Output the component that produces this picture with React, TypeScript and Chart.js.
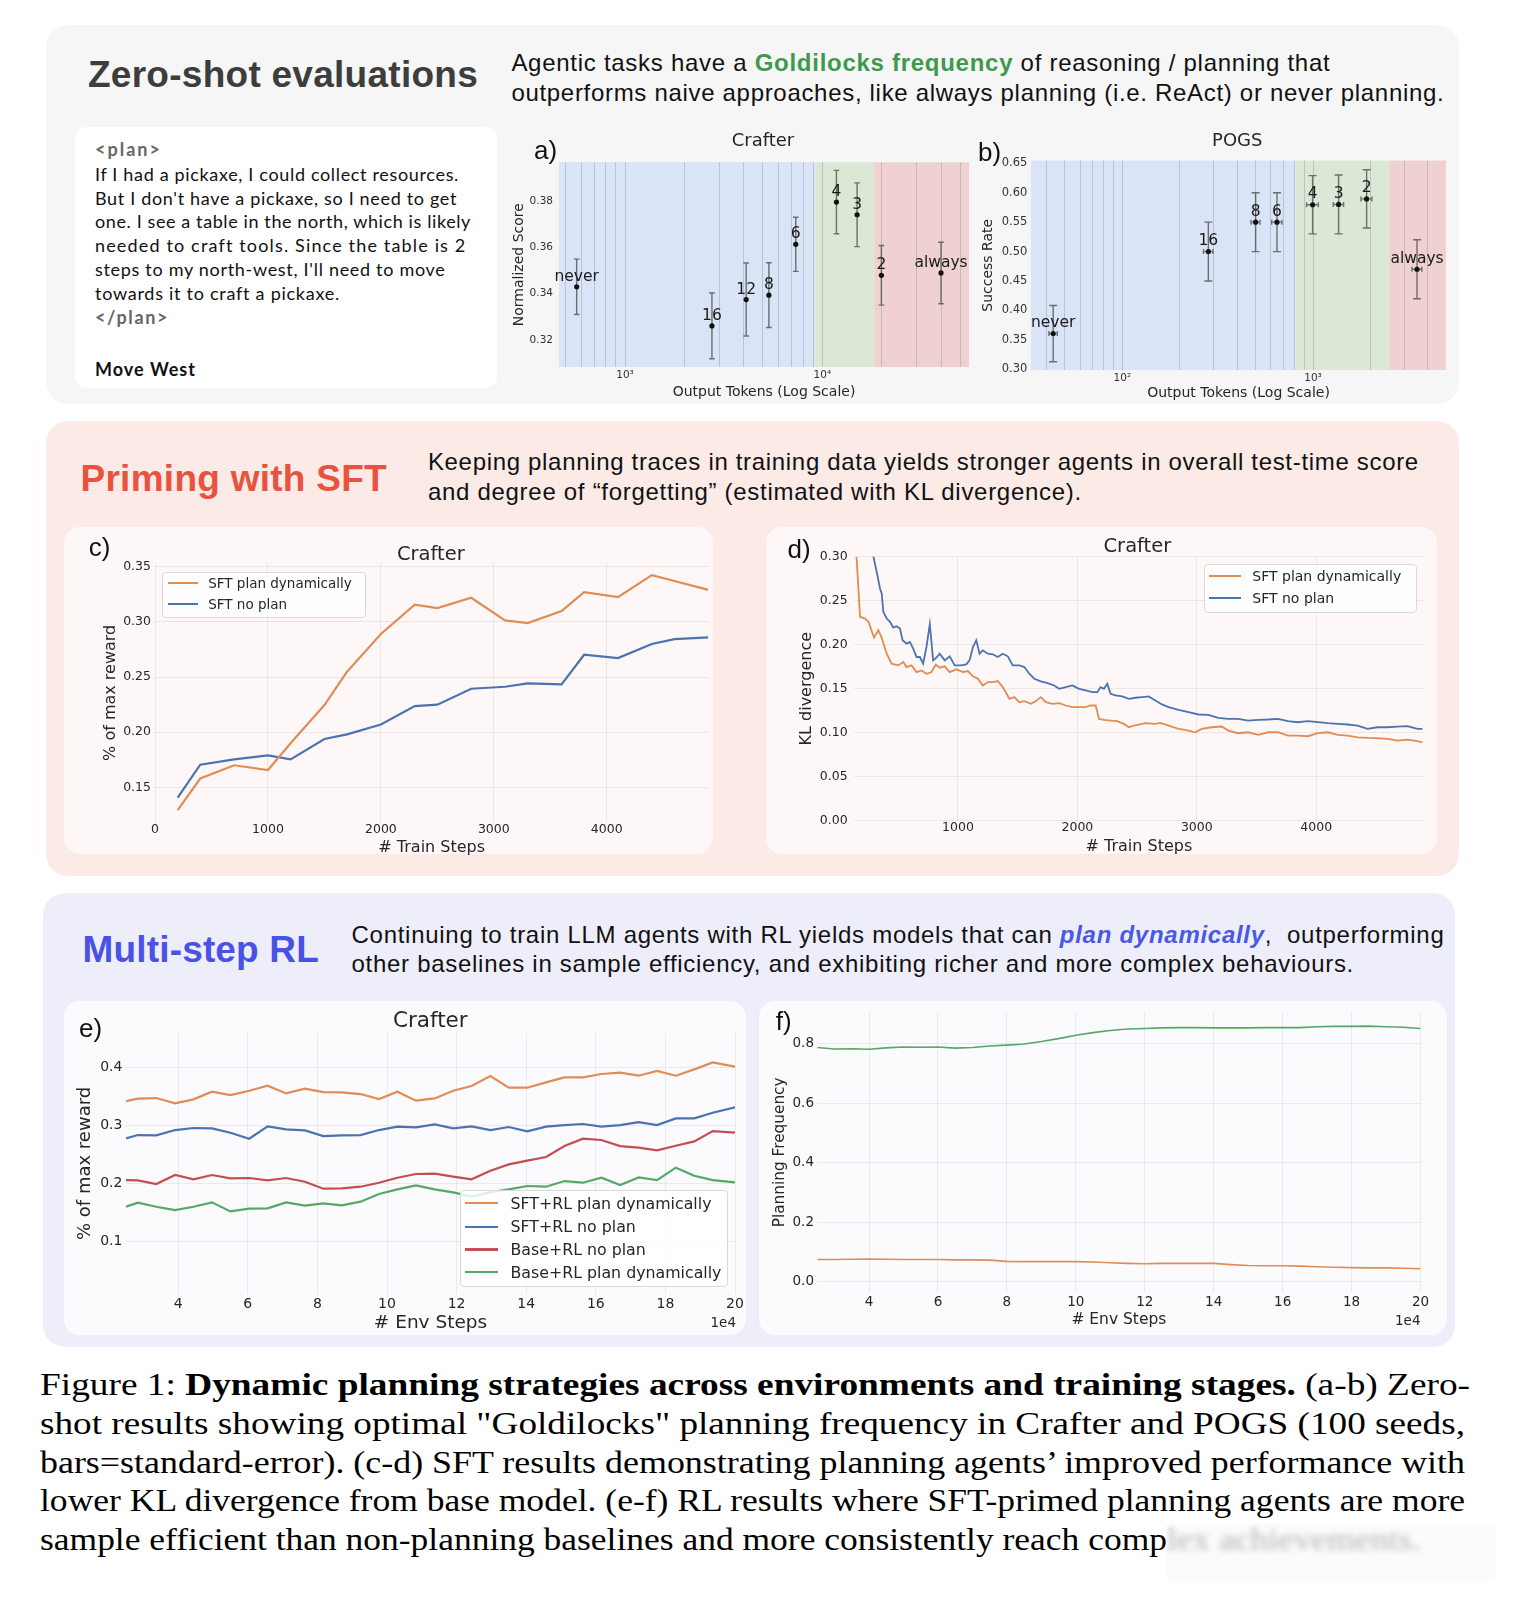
import React, { useEffect, useLayoutEffect, useRef } from 'react';
import { Chart, registerables } from 'chart.js';
Chart.register(...registerables);

// ================= DATA =================
// (a) Crafter zero-shot
const crafterLabels = ['never', '16', '12', '8', '6', '4', '3', '2', 'always'];
const crafterTokens = [569, 2757, 4110, 5357, 7330, 11780, 14990, 19900, 39900];
const crafterScore = [0.343, 0.3261, 0.3375, 0.3394, 0.3614, 0.3797, 0.3742, 0.348, 0.349];
const crafterScoreErr = [0.012, 0.0142, 0.0158, 0.014, 0.0117, 0.0137, 0.0138, 0.0129, 0.0133];
const crafterZones = [463, 9200, 18300, 55300];
const crafterGridTicks = [500, 600, 700, 800, 900, 1000, 2000, 3000, 4000, 5000, 6000, 7000, 8000, 9000, 10000, 20000, 30000, 40000, 50000];
const crafterYTicks = [0.32, 0.34, 0.36, 0.38];

// (b) POGS zero-shot
const pogsLabels = ['never', '16', '8', '6', '4', '3', '2', 'always'];
const pogsTokens = [43.4, 282.6, 500, 647, 995, 1362, 1910, 3510];
const pogsTokensErr = [2.2, 16, 27, 40, 70, 85, 125, 210];
const pogsRate = [0.3607, 0.5, 0.55, 0.55, 0.5795, 0.58, 0.5895, 0.47];
const pogsRateErr = [0.0477, 0.05, 0.05, 0.05, 0.0495, 0.05, 0.0495, 0.05];
const pogsZones = [33.2, 811, 2510, 4980];
const pogsGridTicks = [40, 50, 60, 70, 80, 90, 100, 200, 300, 400, 500, 600, 700, 800, 900, 1000, 2000, 3000, 4000];
const pogsYTicks = [0.3, 0.35, 0.4, 0.45, 0.5, 0.55, 0.6, 0.65];
const logTickLabels: Record<number, string> = { 100: '10\u00B2', 1000: '10\u00B3', 10000: '10\u2074' };

// (c) SFT reward
const sftNames = ['SFT plan dynamically', 'SFT no plan'];
const cSteps = [200, 400, 700, 1000, 1200, 1500, 1700, 2000, 2300, 2500, 2800, 3100, 3300, 3600, 3800, 4100, 4400, 4600, 4900];
const cPlanDyn = [0.1294, 0.158, 0.17, 0.1657, 0.19, 0.2246, 0.2548, 0.289, 0.3155, 0.3125, 0.3219, 0.3013, 0.2989, 0.3098, 0.327, 0.3225, 0.3424, 0.337, 0.329];
const cNoPlan = [0.1406, 0.1705, 0.1753, 0.179, 0.1753, 0.1938, 0.198, 0.207, 0.2237, 0.2249, 0.2394, 0.2412, 0.2442, 0.2433, 0.2702, 0.2672, 0.2799, 0.2844, 0.286];
const cXTicks = [0, 1000, 2000, 3000, 4000];
const cYTicks = [0.15, 0.2, 0.25, 0.3, 0.35];

// (d) SFT KL divergence
const dPlanSteps = [150, 180, 222, 250, 297, 333, 361, 403, 444, 500, 542, 569, 611, 653, 694, 736, 778, 814, 847, 889, 931, 986, 1042, 1083, 1125, 1167, 1208, 1250, 1292, 1333, 1375, 1431, 1472, 1514, 1556, 1611, 1653, 1694, 1736, 1792, 1847, 1903, 1958, 2014, 2069, 2111, 2153, 2181, 2222, 2278, 2333, 2389, 2431, 2472, 2514, 2569, 2653, 2694, 2764, 2847, 2903, 2986, 3042, 3125, 3208, 3264, 3347, 3430, 3514, 3597, 3680, 3764, 3847, 3930, 4014, 4097, 4180, 4264, 4347, 4430, 4514, 4597, 4680, 4764, 4847, 4889];
const dPlanKL = [0.3, 0.2316, 0.2297, 0.226, 0.208, 0.2164, 0.208, 0.1898, 0.1784, 0.1765, 0.1803, 0.1746, 0.1765, 0.1689, 0.1708, 0.167, 0.1689, 0.1773, 0.1739, 0.1754, 0.1689, 0.172, 0.1689, 0.1701, 0.164, 0.1613, 0.1537, 0.1575, 0.1575, 0.1587, 0.1518, 0.1385, 0.1404, 0.1347, 0.1359, 0.1328, 0.1359, 0.1404, 0.1347, 0.1328, 0.1336, 0.1309, 0.129, 0.129, 0.129, 0.1309, 0.1309, 0.1157, 0.1146, 0.1138, 0.1131, 0.11, 0.1062, 0.1081, 0.1093, 0.1108, 0.11, 0.1112, 0.1081, 0.1043, 0.1032, 0.1005, 0.1043, 0.1062, 0.107, 0.1024, 0.0994, 0.1005, 0.0975, 0.1005, 0.1005, 0.0967, 0.0967, 0.096, 0.0994, 0.1005, 0.0975, 0.0967, 0.0948, 0.0941, 0.0937, 0.0929, 0.091, 0.0922, 0.0903, 0.0891];
const dNoPlanSteps = [260, 319, 347, 361, 375, 403, 431, 458, 486, 514, 536, 569, 597, 625, 653, 681, 708, 736, 764, 792, 819, 847, 889, 931, 972, 1028, 1069, 1097, 1125, 1153, 1181, 1208, 1250, 1292, 1333, 1375, 1417, 1458, 1514, 1556, 1597, 1639, 1694, 1750, 1806, 1847, 1903, 1958, 2014, 2069, 2125, 2167, 2194, 2222, 2250, 2278, 2319, 2375, 2431, 2486, 2542, 2597, 2653, 2708, 2764, 2847, 2931, 3014, 3097, 3180, 3264, 3347, 3430, 3514, 3597, 3680, 3764, 3847, 3930, 4014, 4097, 4180, 4264, 4347, 4430, 4514, 4597, 4680, 4764, 4847, 4889];
const dNoPlanKL = [0.32, 0.2829, 0.2639, 0.2582, 0.2373, 0.2297, 0.2259, 0.2195, 0.221, 0.2183, 0.205, 0.2012, 0.2031, 0.1955, 0.186, 0.186, 0.1784, 0.1974, 0.2233, 0.1822, 0.1853, 0.1898, 0.1822, 0.1868, 0.1765, 0.1765, 0.1777, 0.1822, 0.1974, 0.205, 0.1898, 0.1936, 0.1898, 0.1891, 0.186, 0.1898, 0.1868, 0.1765, 0.1765, 0.1746, 0.167, 0.1613, 0.1583, 0.1564, 0.1537, 0.1499, 0.1518, 0.1537, 0.1499, 0.148, 0.1461, 0.1461, 0.1518, 0.1499, 0.1556, 0.1442, 0.1423, 0.1412, 0.1385, 0.1397, 0.1404, 0.1412, 0.1366, 0.1321, 0.129, 0.126, 0.1233, 0.1207, 0.1203, 0.1169, 0.1157, 0.1157, 0.1138, 0.1146, 0.115, 0.1157, 0.1131, 0.1119, 0.1131, 0.1119, 0.1108, 0.11, 0.1093, 0.1081, 0.1043, 0.1062, 0.1062, 0.107, 0.1074, 0.1043, 0.1043];
const dXTicks = [1000, 2000, 3000, 4000];
const dYTicks = [0, 0.05, 0.1, 0.15, 0.2, 0.25, 0.3];

// (e) RL reward
const rlNames = ['SFT+RL plan dynamically', 'SFT+RL no plan', 'Base+RL no plan', 'Base+RL plan dynamically'];
const eSteps = [2.5, 2.84, 3.37, 3.91, 4.44, 4.97, 5.5, 6.04, 6.57, 7.1, 7.64, 8.17, 8.7, 9.24, 9.77, 10.3, 10.83, 11.37, 11.9, 12.43, 12.97, 13.5, 14.03, 14.57, 15.1, 15.63, 16.16, 16.7, 17.23, 17.76, 18.3, 18.83, 19.36, 20];
const eSftPlanDyn = [0.3425, 0.3466, 0.3477, 0.3385, 0.3454, 0.3586, 0.3529, 0.3603, 0.369, 0.3557, 0.3638, 0.358, 0.3575, 0.3546, 0.346, 0.3586, 0.3431, 0.347, 0.3603, 0.3684, 0.3856, 0.3655, 0.3655, 0.3747, 0.3833, 0.3833, 0.3891, 0.3914, 0.3862, 0.3943, 0.3862, 0.3971, 0.4092, 0.4017];
const eSftNoPlan = [0.2782, 0.2839, 0.2833, 0.2925, 0.296, 0.2954, 0.2879, 0.2776, 0.2989, 0.2937, 0.292, 0.2822, 0.2833, 0.2839, 0.2925, 0.2983, 0.2971, 0.3023, 0.2954, 0.2989, 0.2925, 0.2977, 0.2902, 0.2983, 0.3011, 0.3029, 0.2983, 0.3011, 0.3063, 0.3011, 0.3126, 0.3126, 0.3224, 0.3316];
const eBaseNoPlan = [0.2063, 0.2057, 0.1994, 0.215, 0.2075, 0.215, 0.2092, 0.2098, 0.2057, 0.2098, 0.2034, 0.1914, 0.192, 0.1948, 0.2017, 0.2103, 0.2167, 0.2172, 0.2121, 0.2075, 0.2224, 0.2333, 0.2397, 0.246, 0.2649, 0.2776, 0.2753, 0.2649, 0.2621, 0.2575, 0.2655, 0.273, 0.2908, 0.2879];
const eBasePlanDyn = [0.1603, 0.1672, 0.1603, 0.1546, 0.1603, 0.1678, 0.1523, 0.1569, 0.1575, 0.1678, 0.1621, 0.1661, 0.1626, 0.169, 0.1822, 0.1902, 0.1971, 0.1902, 0.185, 0.1776, 0.185, 0.1902, 0.196, 0.1948, 0.2046, 0.2017, 0.2103, 0.1977, 0.2109, 0.2063, 0.2276, 0.2138, 0.2063, 0.2023];
const eXTicks = [4, 6, 8, 10, 12, 14, 16, 18, 20];
const eYTicks = [0.1, 0.2, 0.3, 0.4];

// (f) planning frequency
const fSteps = [2.5, 3, 3.5, 4, 4.5, 5, 5.5, 6, 6.5, 7, 7.5, 8, 8.5, 9, 9.5, 10, 10.5, 11, 11.5, 12, 12.5, 13, 13.5, 14, 14.5, 15, 15.5, 16, 16.5, 17, 17.5, 18, 18.5, 19, 19.5, 20];
const fGreenFreq = [0.787, 0.782, 0.783, 0.781, 0.786, 0.789, 0.788, 0.789, 0.785, 0.787, 0.792, 0.795, 0.799, 0.807, 0.817, 0.828, 0.837, 0.844, 0.849, 0.851, 0.853, 0.854, 0.854, 0.853, 0.853, 0.853, 0.854, 0.854, 0.854, 0.857, 0.858, 0.858, 0.859, 0.857, 0.855, 0.851];
const fOrangeFreq = [0.075, 0.075, 0.076, 0.077, 0.076, 0.075, 0.075, 0.075, 0.074, 0.074, 0.073, 0.069, 0.068, 0.068, 0.068, 0.068, 0.067, 0.064, 0.062, 0.061, 0.062, 0.062, 0.062, 0.062, 0.058, 0.055, 0.054, 0.054, 0.053, 0.051, 0.049, 0.048, 0.047, 0.047, 0.046, 0.044];
const fXTicks = [4, 6, 8, 10, 12, 14, 16, 18, 20];
const fYTicks = [0, 0.2, 0.4, 0.6, 0.8];

// ================= STYLE =================
const FONT = 'DejaVu Sans';
const FONT_CSS = '"DejaVu Sans", sans-serif';
const SANS = '"Liberation Sans", Arial, sans-serif';
const SERIF = '"Liberation Serif", "Times New Roman", serif';
const LATO = 'Lato, sans-serif';
const INK = '#262626';
const GRID = 'rgba(60,50,60,0.085)';
const LOGGRID = 'rgba(100,110,130,0.28)';
const ORANGE = '#e08c54';
const BLUE = '#4c72b0';
const RED = '#c44e52';
const GREEN = '#55a868';
const ZONE_COLORS = ['#d9e4f6', '#dbe8d5', '#f0d1d1'];

Chart.defaults.font.family = FONT;

// ================= PLUGINS =================
const zonesPlugin = {
  id: 'zones',
  beforeDraw(chart: any, _a: any, opts: any) {
    if (!opts || !opts.bounds) return;
    const { ctx, chartArea: ca, scales } = chart;
    const x = scales.x;
    ctx.save();
    for (let i = 0; i < opts.bounds.length - 1; i++) {
      const x0 = x.getPixelForValue(opts.bounds[i]);
      const x1 = x.getPixelForValue(opts.bounds[i + 1]);
      ctx.fillStyle = opts.colors[i];
      ctx.fillRect(x0, ca.top, x1 - x0, ca.bottom - ca.top);
    }
    ctx.restore();
  },
};

const errBarPlugin = {
  id: 'errbars',
  beforeDatasetsDraw(chart: any, _a: any, opts: any) {
    const { ctx, scales } = chart;
    const x = scales.x, y = scales.y;
    ctx.save();
    ctx.strokeStyle = opts.color;
    ctx.lineWidth = opts.lineWidth;
    for (const p of chart.data.datasets[0].data) {
      const px = x.getPixelForValue(p.x);
      const py = y.getPixelForValue(p.y);
      const t = y.getPixelForValue(p.y + p.yErr);
      const b = y.getPixelForValue(p.y - p.yErr);
      ctx.beginPath();
      ctx.moveTo(px, t); ctx.lineTo(px, b);
      ctx.moveTo(px - opts.cap, t); ctx.lineTo(px + opts.cap, t);
      ctx.moveTo(px - opts.cap, b); ctx.lineTo(px + opts.cap, b);
      if (p.xErr) {
        const l = x.getPixelForValue(p.x - p.xErr);
        const r = x.getPixelForValue(p.x + p.xErr);
        ctx.moveTo(l, py); ctx.lineTo(r, py);
        ctx.moveTo(l, py - opts.xcap); ctx.lineTo(l, py + opts.xcap);
        ctx.moveTo(r, py - opts.xcap); ctx.lineTo(r, py + opts.xcap);
      }
      ctx.stroke();
    }
    ctx.restore();
  },
  afterDatasetsDraw(chart: any, _a: any, opts: any) {
    const { ctx, scales } = chart;
    const x = scales.x, y = scales.y;
    ctx.save();
    ctx.font = `${opts.labelSize}px ${FONT}`;
    ctx.fillStyle = '#1a1a1a';
    ctx.textAlign = 'center';
    ctx.textBaseline = 'alphabetic';
    for (const p of chart.data.datasets[0].data) {
      ctx.fillText(p.label, x.getPixelForValue(p.x), y.getPixelForValue(p.y) - opts.labelGap);
    }
    ctx.restore();
  },
};

// ================= AXIS HELPERS =================
function axis(o: any) {
  const horiz = o.h !== undefined;
  return {
    type: o.type || 'linear',
    min: o.min,
    max: o.max,
    afterBuildTicks: (s: any) => { s.ticks = o.ticks.map((v: number) => ({ value: v })); },
    afterFit: (s: any) => { if (horiz) s.height = o.h; else s.width = o.w; },
    grid: { display: o.grid !== false, color: o.gridColor || GRID, lineWidth: 1, drawTicks: false },
    border: { display: false },
    ticks: {
      callback: (v: any) => o.fmt(Number(v)),
      font: { family: FONT, size: o.size },
      color: o.tickColor || INK,
      padding: o.pad,
      maxRotation: 0,
      minRotation: 0,
      autoSkip: false,
    },
    title: { display: true, text: o.title, font: { family: FONT, size: o.titleSize }, color: INK, padding: o.titlePad },
  };
}

const baseOpts = (pad: any) => ({
  animation: false,
  responsive: false,
  events: [],
  layout: { padding: pad },
});

function cfgA() {
  return {
    type: 'scatter',
    data: {
      datasets: [{
        label: 'Crafter',
        data: crafterTokens.map((t, i) => ({ x: t, y: crafterScore[i], yErr: crafterScoreErr[i], label: crafterLabels[i] })),
        pointRadius: 2.6, pointBackgroundColor: '#111', pointBorderWidth: 0,
      }],
    },
    options: {
      ...baseOpts({ left: 0, right: 6, top: 10, bottom: 0 }),
      plugins: {
        legend: { display: false }, tooltip: { enabled: false },
        zones: { bounds: crafterZones, colors: ZONE_COLORS },
        errbars: { color: 'rgba(80,80,80,0.8)', lineWidth: 1.4, cap: 2.8, xcap: 0, labelSize: 15.5, labelGap: 6 },
      },
      scales: {
        x: axis({ type: 'logarithmic', min: 463, max: 55300, ticks: crafterGridTicks, fmt: (v: number) => logTickLabels[v] || '', size: 10.5, pad: 1.7, title: 'Output Tokens (Log Scale)', titleSize: 14, titlePad: { top: 0, bottom: 4.6 }, h: 38, gridColor: LOGGRID, tickColor: '#333' }),
        y: axis({ min: 0.3083, max: 0.3969, ticks: crafterYTicks, fmt: (v: number) => v.toFixed(2), size: 10.5, pad: 6, title: 'Normalized Score', titleSize: 14, titlePad: { top: 10.6, bottom: 0 }, w: 59, grid: false, tickColor: '#333' }),
      },
    },
    plugins: [zonesPlugin, errBarPlugin],
  };
}

function cfgB() {
  return {
    type: 'scatter',
    data: {
      datasets: [{
        label: 'POGS',
        data: pogsTokens.map((t, i) => ({ x: t, y: pogsRate[i], yErr: pogsRateErr[i], xErr: pogsTokensErr[i], label: pogsLabels[i] })),
        pointRadius: 2.6, pointBackgroundColor: '#111', pointBorderWidth: 0,
      }],
    },
    options: {
      ...baseOpts({ left: 0, right: 9, top: 10, bottom: 0 }),
      plugins: {
        legend: { display: false }, tooltip: { enabled: false },
        zones: { bounds: pogsZones, colors: ZONE_COLORS },
        errbars: { color: 'rgba(80,80,80,0.8)', lineWidth: 1.4, cap: 4, xcap: 2.5, labelSize: 15.5, labelGap: 6.5 },
      },
      scales: {
        x: axis({ type: 'logarithmic', min: 33.2, max: 4980, ticks: pogsGridTicks, fmt: (v: number) => logTickLabels[v] || '', size: 10.5, pad: 2.1, title: 'Output Tokens (Log Scale)', titleSize: 14, titlePad: { top: 0, bottom: 2.9 }, h: 35, gridColor: LOGGRID, tickColor: '#333' }),
        y: axis({ min: 0.2989, max: 0.6545, ticks: pogsYTicks, fmt: (v: number) => v.toFixed(2), size: 11.5, pad: 3.7, title: 'Success Rate', titleSize: 14, titlePad: { top: 4.6, bottom: 0 }, w: 56, grid: false, tickColor: '#333' }),
      },
    },
    plugins: [zonesPlugin, errBarPlugin],
  };
}

const lineDs = (label: string, xs: number[], ys: number[], color: string, w: number) => ({
  label,
  data: xs.map((x, i) => ({ x, y: ys[i] })),
  borderColor: color,
  backgroundColor: color,
  borderWidth: w,
  pointRadius: 0,
  tension: 0,
  fill: false,
});

function cfgC() {
  return {
    type: 'line',
    data: { datasets: [lineDs(sftNames[0], cSteps, cPlanDyn, ORANGE, 2.2), lineDs(sftNames[1], cSteps, cNoPlan, BLUE, 2.2)] },
    options: {
      ...baseOpts({ left: 0, right: 4.7, top: 36.3, bottom: 0 }),
      plugins: { legend: { display: false }, tooltip: { enabled: false } },
      scales: {
        x: axis({ min: 0, max: 4900, ticks: cXTicks, fmt: (v: number) => String(v), size: 12.5, pad: 0.2, title: '# Train Steps', titleSize: 16, titlePad: { top: 0, bottom: 4.7 }, h: 39.7 }),
        y: axis({ min: 0.1183, max: 0.3531, ticks: cYTicks, fmt: (v: number) => v.toFixed(2), size: 12.5, pad: 4.1, title: '% of max reward', titleSize: 16, titlePad: { top: 37.2, bottom: 0 }, w: 91.1 }),
      },
    },
  };
}

function cfgD() {
  return {
    type: 'line',
    data: { datasets: [lineDs(sftNames[0], dPlanSteps, dPlanKL, ORANGE, 1.8), lineDs(sftNames[1], dNoPlanSteps, dNoPlanKL, BLUE, 1.8)] },
    options: {
      ...baseOpts({ left: 0, right: 13.3, top: 29.7, bottom: 0 }),
      plugins: { legend: { display: false }, tooltip: { enabled: false } },
      scales: {
        x: axis({ min: 130, max: 4900, ticks: dXTicks, fmt: (v: number) => String(v), size: 12.5, pad: 0, title: '# Train Steps', titleSize: 16, titlePad: { top: 0, bottom: 5.7 }, h: 41.3 }),
        y: axis({ min: 0, max: 0.3, ticks: dYTicks, fmt: (v: number) => v.toFixed(2), size: 12.5, pad: 6.4, title: 'KL divergence', titleSize: 16, titlePad: { top: 31.3, bottom: 0 }, w: 88.1 }),
      },
    },
  };
}

function cfgE() {
  return {
    type: 'line',
    data: {
      datasets: [
        lineDs(rlNames[3], eSteps, eBasePlanDyn, GREEN, 2.2),
        lineDs(rlNames[2], eSteps, eBaseNoPlan, RED, 2.2),
        lineDs(rlNames[1], eSteps, eSftNoPlan, BLUE, 2.2),
        lineDs(rlNames[0], eSteps, eSftPlanDyn, ORANGE, 2.2),
      ],
    },
    options: {
      ...baseOpts({ left: 0, right: 11, top: 31.9, bottom: 0 }),
      plugins: { legend: { display: false }, tooltip: { enabled: false } },
      scales: {
        x: axis({ min: 2.5, max: 20, ticks: eXTicks, fmt: (v: number) => String(v), size: 14, pad: 1.7, title: '# Env Steps', titleSize: 18.5, titlePad: { top: 0, bottom: 4.2 }, h: 44.1 }),
        y: axis({ min: 0.01, max: 0.46, ticks: eYTicks, fmt: (v: number) => v.toFixed(1), size: 14, pad: 3.6, title: '% of max reward', titleSize: 18, titlePad: { top: 10.7, bottom: 0 }, w: 62 }),
      },
    },
  };
}

function cfgF() {
  return {
    type: 'line',
    data: {
      datasets: [
        lineDs('Planning frequency (plan dynamically)', fSteps, fGreenFreq, GREEN, 1.6),
        lineDs('Planning frequency (SFT+RL)', fSteps, fOrangeFreq, ORANGE, 1.6),
      ],
    },
    options: {
      ...baseOpts({ left: 0, right: 26.5, top: 7.3, bottom: 0 }),
      plugins: { legend: { display: false }, tooltip: { enabled: false } },
      scales: {
        x: axis({ min: 2.5, max: 20, ticks: fXTicks, fmt: (v: number) => String(v), size: 13.5, pad: 2.3, title: '# Env Steps', titleSize: 15.5, titlePad: { top: 0, bottom: 8.7 }, h: 45.7 }),
        y: axis({ min: -0.035, max: 0.905, ticks: fYTicks, fmt: (v: number) => v.toFixed(1), size: 13.5, pad: 3.3, title: 'Planning Frequency', titleSize: 15.3, titlePad: { top: 11.9, bottom: 0 }, w: 58.3 }),
      },
    },
  };
}

// ================= COMPONENTS =================
function ChartCanvas({ left, top, width, height, make }: any) {
  const ref = useRef<HTMLCanvasElement>(null);
  useEffect(() => {
    const c = new Chart(ref.current as HTMLCanvasElement, make());
    return () => c.destroy();
  }, []);
  return <canvas ref={ref} width={width} height={height} style={{ position: 'absolute', left, top, width, height }} />;
}

function Txt({ x, y, size, family = SANS, weight = 400, color = '#111', align = 'left', fit, mode = 'letter', italic, children }: any) {
  const k = family.includes('Lato') ? 0.387 : family.includes('Serif') ? 0.3375 : 0.346;
  const ref = useRef<HTMLDivElement>(null);
  useLayoutEffect(() => {
    const el = ref.current;
    if (!fit || !el) return;
    el.style.letterSpacing = '0px';
    el.style.wordSpacing = '0px';
    el.style.transform = '';
    const w = el.getBoundingClientRect().width;
    const text = el.textContent || '';
    if (mode === 'scale') {
      el.style.transformOrigin = 'left center';
      el.style.transform = `scaleX(${fit / w})`;
    } else if (mode === 'word') {
      const n = (text.match(/ /g) || []).length;
      if (n) el.style.wordSpacing = (fit - w) / n + 'px';
    } else if (text.length) {
      el.style.letterSpacing = (fit - w) / text.length + 'px';
    }
  }, [fit]);
  const tx = align === 'center' ? 'translateX(-50%)' : align === 'right' ? 'translateX(-100%)' : undefined;
  return (
    <div
      ref={ref}
      style={{
        position: 'absolute', left: x, top: y - k * size, fontSize: size, fontFamily: family,
        fontWeight: weight, fontStyle: italic ? 'italic' : 'normal', color, lineHeight: 0,
        whiteSpace: 'pre', transform: tx,
      }}
    >
      {children}
    </div>
  );
}

function Box({ x, y, w, h, r, bg }: any) {
  return <div style={{ position: 'absolute', left: x, top: y, width: w, height: h, borderRadius: r, background: bg }} />;
}

function LegendBox({ x, y, w, h, size, rowYs, lineX, lineW, textX, names, colors }: any) {
  return (
    <div style={{ position: 'absolute', left: x, top: y, width: w, height: h, boxSizing: 'border-box', background: 'rgba(255,255,255,0.82)', border: '1px solid #dadada', borderRadius: 4 }}>
      {names.map((n: string, i: number) => (
        <React.Fragment key={n}>
          <div style={{ position: 'absolute', left: lineX, top: rowYs[i] - 1.1, width: lineW, height: 2.2, background: colors[i] }} />
          <Txt x={textX} y={rowYs[i] + 0.36 * size} size={size} family={FONT_CSS} color={INK}>{n}</Txt>
        </React.Fragment>
      ))}
    </div>
  );
}

export default function App() {
  const planLines = [
    'If I had a pickaxe, I could collect resources.',
    "But I don't have a pickaxe, so I need to get",
    'one. I see a table in the north, which is likely',
    'needed to craft tools. Since the table is 2',
    "steps to my north-west, I'll need to move",
    'towards it to craft a pickaxe.',
  ];
  const planFits = [364, 362, 376, 371, 350.5, 244.5];
  const planBase = [181, 204.7, 228.4, 252.1, 275.8, 299.5];
  const CAP = 32;
  return (
    <div style={{ position: 'absolute', left: 0, top: 0, width: 1518, height: 1598, background: '#fff', overflow: 'hidden' }}>
      {/* ===== Panel 1 ===== */}
      <Box x={46} y={25} w={1413} h={379} r={22} bg="#f6f6f6" />
      <Box x={75} y={127} w={422} h={261} r={12} bg="#ffffff" />
      {/* ===== Panel 2 ===== */}
      <Box x={46} y={421} w={1413} h={455} r={22} bg="#fbeae6" />
      <Box x={64} y={527} w={649} h={327} r={16} bg="#fdf8f7" />
      <Box x={766} y={527} w={671} h={327} r={16} bg="#fdf8f7" />
      {/* ===== Panel 3 ===== */}
      <Box x={43} y={893} w={1412} h={454} r={22} bg="#eeeefa" />
      <Box x={64} y={1001} w={682} h={334} r={16} bg="#fbfbfe" />
      <Box x={759} y={1001} w={688} h={334} r={16} bg="#fbfbfe" />

      <ChartCanvas left={500} top={150} width={475} height={255} make={cfgA} />
      <ChartCanvas left={975} top={150} width={480} height={255} make={cfgB} />
      <ChartCanvas left={64} top={527} width={649} height={335} make={cfgC} />
      <ChartCanvas left={766} top={527} width={671} height={335} make={cfgD} />
      <ChartCanvas left={64} top={1001} width={682} height={337} make={cfgE} />
      <ChartCanvas left={759} top={1001} width={688} height={337} make={cfgF} />

      {/* Panel 1 texts */}
      <Txt x={88} y={88} size={37} weight={700} color="#3d3d3d" fit={390}>Zero-shot evaluations</Txt>
      <Txt x={511.4} y={71.5} size={24} fit={819}>
        Agentic tasks have a <span style={{ color: '#3d9a4c', fontWeight: 700 }}>Goldilocks frequency</span> of reasoning / planning that
      </Txt>
      <Txt x={511.4} y={101.5} size={24} fit={933}>outperforms naive approaches, like always planning (i.e. ReAct) or never planning.</Txt>
      <Txt x={95} y={156} size={18} family={LATO} weight={700} color="#666" fit={67}>{'<plan>'}</Txt>
      {planLines.map((l, i) => (
        <Txt key={i} x={95} y={planBase[i]} size={18} family={LATO} color="#111" fit={planFits[i]}>{l}</Txt>
      ))}
      <Txt x={95} y={323.5} size={18} family={LATO} weight={700} color="#666" fit={74}>{'</plan>'}</Txt>
      <Txt x={95} y={375.5} size={18} family={LATO} weight={700} color="#111" fit={101}>Move West</Txt>
      <Txt x={534} y={159} size={26} color="#111">a)</Txt>
      <Txt x={763} y={146.3} size={18} family={FONT_CSS} color={INK} align="center">Crafter</Txt>
      <Txt x={978} y={161} size={26} color="#111">b)</Txt>
      <Txt x={1237.3} y={146.3} size={18} family={FONT_CSS} color={INK} align="center">POGS</Txt>

      {/* Panel 2 texts */}
      <Txt x={80.5} y={492} size={37} weight={700} color="#e8533f" fit={306.5}>Priming with SFT</Txt>
      <Txt x={427.9} y={470} size={24} fit={991}>Keeping planning traces in training data yields stronger agents in overall test-time score</Txt>
      <Txt x={427.9} y={500.5} size={24} fit={654}>and degree of {'\u201C'}forgetting{'\u201D'} (estimated with KL divergence).</Txt>
      <Txt x={88.8} y={556.2} size={26} color="#111">c)</Txt>
      <Txt x={430.8} y={560.7} size={19.5} family={FONT_CSS} color={INK} align="center">Crafter</Txt>
      <Txt x={787.6} y={557.8} size={26} color="#111">d)</Txt>
      <Txt x={1137.4} y={552.7} size={19.5} family={FONT_CSS} color={INK} align="center">Crafter</Txt>
      <LegendBox x={162.2} y={571.7} w={203.6} h={46.6} size={13.5} rowYs={[10, 31.6]} lineX={5.2} lineW={29.4} textX={45} names={sftNames} colors={[ORANGE, BLUE]} />
      <LegendBox x={1204.3} y={564} w={212.4} h={48.7} size={14} rowYs={[11, 33.3]} lineX={3.7} lineW={32} textX={47} names={sftNames} colors={[ORANGE, BLUE]} />

      {/* Panel 3 texts */}
      <Txt x={82.5} y={962.5} size={37} weight={700} color="#4a52e4" fit={236.5}>Multi-step RL</Txt>
      <Txt x={351.5} y={943} size={24} fit={1093}>
        Continuing to train LLM agents with RL yields models that can <span style={{ color: '#4a58e6', fontWeight: 700, fontStyle: 'italic' }}>plan dynamically</span>,  outperforming
      </Txt>
      <Txt x={351.5} y={972.4} size={24} fit={1002.5}>other baselines in sample efficiency, and exhibiting richer and more complex behaviours.</Txt>
      <Txt x={79} y={1037} size={26} color="#111">e)</Txt>
      <Txt x={430.3} y={1027.3} size={21.5} family={FONT_CSS} color={INK} align="center">Crafter</Txt>
      <Txt x={775.7} y={1029.5} size={26} color="#111">f)</Txt>
      <Txt x={736} y={1326.7} size={13.5} family={FONT_CSS} color={INK} align="right">1e4</Txt>
      <Txt x={1420.5} y={1324.3} size={13.5} family={FONT_CSS} color={INK} align="right">1e4</Txt>
      <LegendBox x={460} y={1190} w={268.2} h={97.3} size={15.8} rowYs={[12.3, 35.7, 58.5, 81.3]} lineX={4} lineW={33.3} textX={49.5} names={rlNames} colors={[ORANGE, BLUE, RED, GREEN]} />

      {/* Caption */}
      <Txt x={40} y={1394.3} size={CAP} family={SERIF} color="#000" fit={1430} mode="scale">
        Figure 1: <b>Dynamic planning strategies across environments and training stages.</b> (a-b) Zero-
      </Txt>
      <Txt x={40} y={1433.3} size={CAP} family={SERIF} color="#000" fit={1425} mode="scale">shot results showing optimal "Goldilocks" planning frequency in Crafter and POGS (100 seeds,</Txt>
      <Txt x={40} y={1472.3} size={CAP} family={SERIF} color="#000" fit={1425} mode="scale">bars=standard-error). (c-d) SFT results demonstrating planning agents{'\u2019'} improved performance with</Txt>
      <Txt x={40} y={1510.7} size={CAP} family={SERIF} color="#000" fit={1425} mode="scale">lower KL divergence from base model. (e-f) RL results where SFT-primed planning agents are more</Txt>
      <Txt x={40} y={1549.3} size={CAP} family={SERIF} color="#000" fit={1381} mode="scale">sample efficient than non-planning baselines and more consistently reach complex achievements.</Txt>
      <div style={{ position: 'absolute', left: 1166, top: 1524, width: 330, height: 58, borderRadius: 6, background: 'rgba(250,250,250,0.72)', backdropFilter: 'blur(3px)', WebkitBackdropFilter: 'blur(3px)' }} />
    </div>
  );
}
